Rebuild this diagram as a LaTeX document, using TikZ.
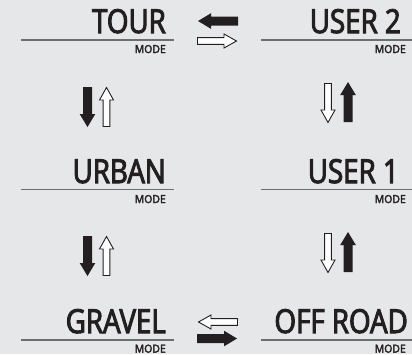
\documentclass[tikz,border=0pt]{standalone}
\usepackage{fontspec}
\setmainfont{Open Sans}[FakeStretch=0.84,FakeBold=3]
\newfontfamily\smallfont{Open Sans}[FakeStretch=0.95,FakeBold=3]
\definecolor{bg}{HTML}{E6E7E8}
\definecolor{ink}{HTML}{231F20}
\definecolor{rule}{HTML}{6D6E70}
\tikzset{
  big/.style={anchor=base east,inner sep=0pt,text=ink,font=\fontsize{33}{33}\selectfont},
  small/.style={anchor=base east,inner sep=0pt,text=ink,font=\smallfont\fontsize{11}{11}\selectfont},
  rl/.style={draw=rule,line width=1.6pt},
  blk/.pic={\fill[ink] (0,-4.5) -- (27,-4.5) -- (27,-7.8) -- (40,0) -- (27,7.8) -- (27,4.5) -- (0,4.5) -- cycle;},
  wht/.pic={\filldraw[fill=white,draw=ink,line width=0.9pt] (0.5,-3.4) -- (27,-3.4) -- (27,-7) -- (39.5,0) -- (27,7) -- (27,3.4) -- (0.5,3.4) -- cycle;}
}
\begin{document}
\begin{tikzpicture}[x=1pt,y=-1pt]
\fill[bg] (0,0) rectangle (412,354);
\useasboundingbox (0,0) rectangle (412,354);
% labels
\node[big] (tour) at (166,33) {TOUR};
\node[small] (tourm) at (166,53) {MODE};
\node[big] (user2) at (401,33) {USER 2};
\node[small] (user2m) at (406,53) {MODE};
\node[big] (urban) at (166,183) {URBAN};
\node[small] (urbanm) at (166,203) {MODE};
\node[big] (user1) at (399,183) {USER 1};
\node[small] (user1m) at (406,203) {MODE};
\node[big] (gravel) at (166,333) {GRAVEL};
\node[small] (gravelm) at (166,352.6) {MODE};
\node[big] (offroad) at (408,333) {OFF ROAD};
\node[small] (offroadm) at (406,352.6) {MODE};
% rules
\draw[rl] (21,40) -- (174,40);
\draw[rl] (261,40) -- (412,40);
\draw[rl] (21,189.5) -- (174,189.5);
\draw[rl] (261,189.5) -- (412,189.5);
\draw[rl] (21,340) -- (174,340);
\draw[rl] (261,340) -- (412,340);
% horizontal arrows
\pic[rotate=180] at (238,21) {blk};
\pic at (197,41) {wht};
\pic[rotate=180] at (238,322) {wht};
\pic at (197,338.5) {blk};
% vertical arrows
\pic[rotate=-90] at (87.5,87) {blk};
\pic[rotate=90] at (106.5,127) {wht};
\pic[rotate=-90] at (328,83) {wht};
\pic[rotate=90] at (348,122) {blk};
\pic[rotate=-90] at (87.5,236) {blk};
\pic[rotate=90] at (106.5,276) {wht};
\pic[rotate=-90] at (328,233) {wht};
\pic[rotate=90] at (348,272) {blk};
\end{tikzpicture}
\end{document}
